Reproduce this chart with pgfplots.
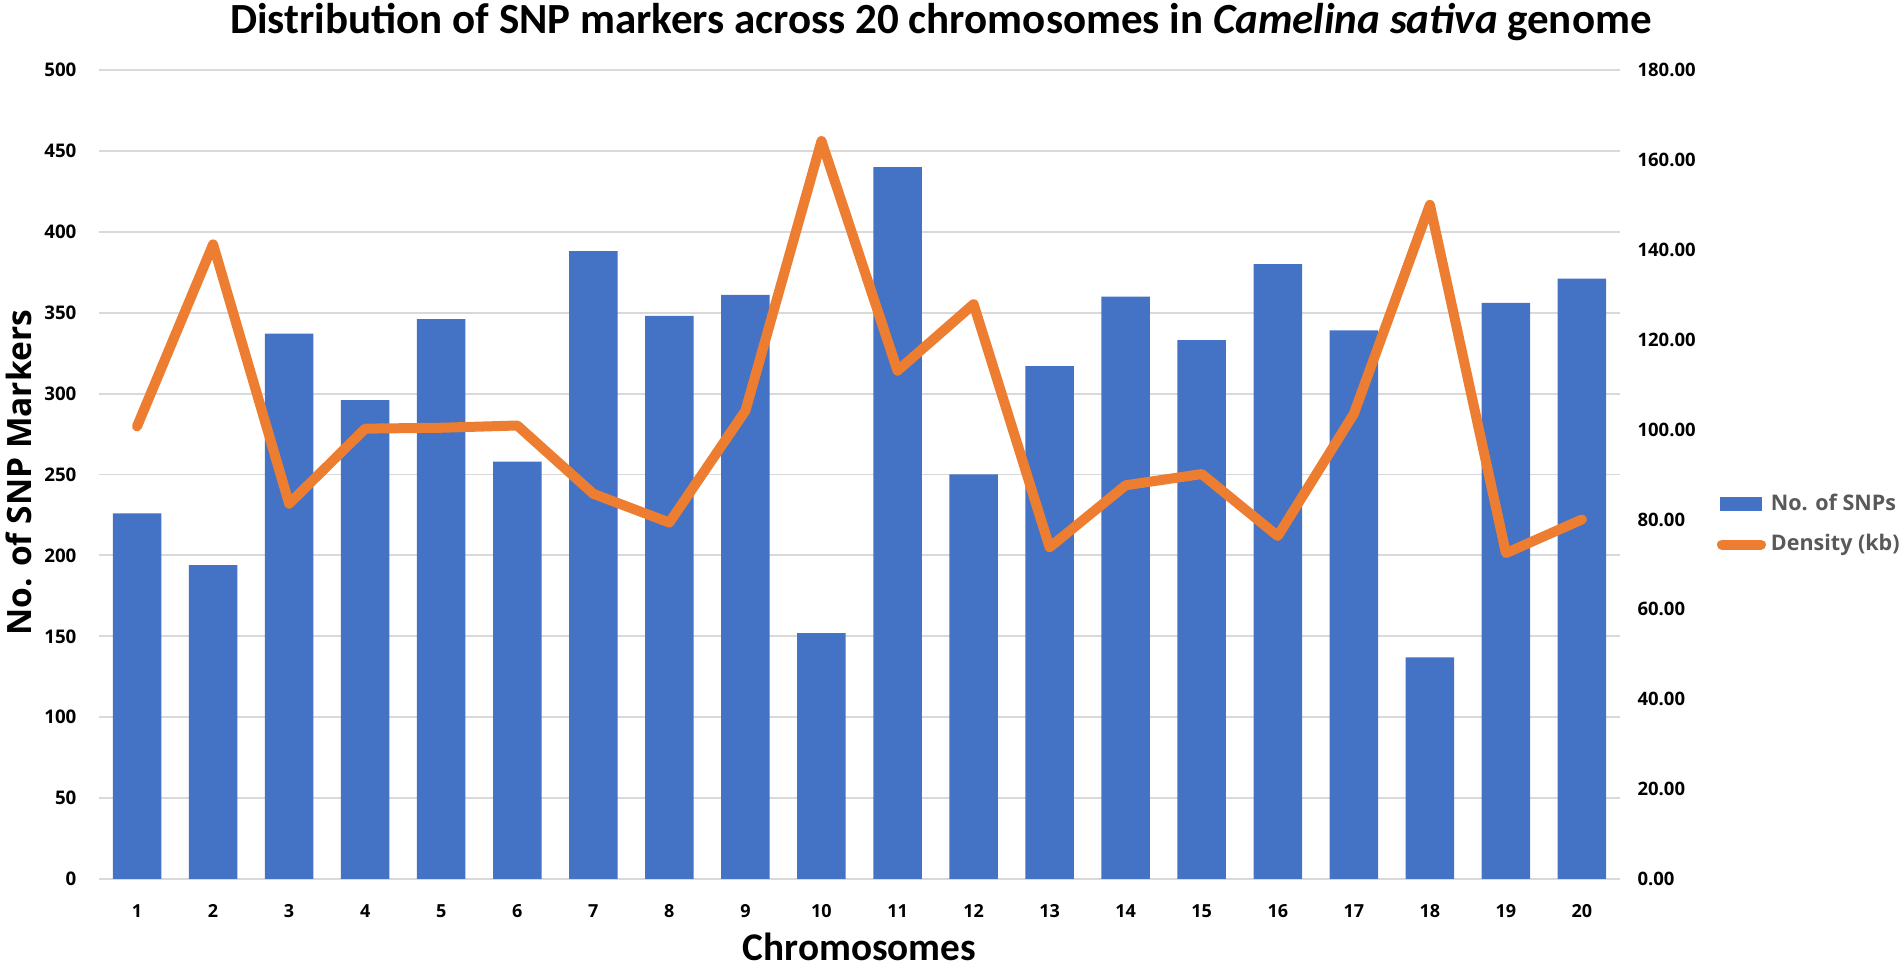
\documentclass[border=0pt]{standalone}
\usepackage{fontspec}
\setmainfont{Carlito}
\newfontfamily\osans{Open Sans}
\usepackage{pgfplots}
\usepackage{pgfplotstable}
\pgfplotsset{compat=1.18}
\definecolor{barblue}{HTML}{4472C4}
\definecolor{lineorange}{HTML}{ED7D31}
\definecolor{gridgray}{HTML}{D9D9D9}
\definecolor{leggray}{HTML}{595959}
\pgfplotstableread{
chr snps density
1 226 100.7
2 194 141.2
3 337 83.5
4 296 100.2
5 346 100.4
6 258 100.9
7 388 85.7
8 348 79.3
9 361 104.2
10 152 164.2
11 440 113.1
12 250 127.9
13 317 73.8
14 360 87.6
15 333 90.1
16 380 76.3
17 339 103.5
18 137 150.0
19 356 72.5
20 371 80.0
}\datatable

\begin{document}
\begin{tikzpicture}
\path[use as bounding box] (-39.6pt,-36pt) rectangle (720.4pt,351.6pt);
\begin{axis}[
  at={(0,0)}, anchor=south west,
  scale only axis, width=608.4pt, height=323.6pt,
  xmin=0.5, xmax=20.5, ymin=0, ymax=500,
  xtick={1,...,20}, ytick={0,50,...,500},
  axis line style={draw=none},
  major tick length=0pt,
  ymajorgrids, major grid style={gridgray, line width=0.75pt},
  /pgf/number format/assume math mode=true,
  xticklabel style={font=\osans\bfseries\fontsize{7.2}{8}\selectfont, yshift=-6.8pt},
  yticklabel style={font=\osans\bfseries\fontsize{7.5}{8}\selectfont, xshift=-5.5pt},
  clip=false,
]
\addplot[ybar, bar width=19.4pt, fill=barblue, draw=none] table[x=chr, y=snps]{\datatable};
\end{axis}
\begin{axis}[
  at={(0,0)}, anchor=south west,
  scale only axis, width=608.4pt, height=323.6pt,
  xmin=0.5, xmax=20.5, ymin=0, ymax=180,
  axis x line=none,
  axis y line*=right,
  axis line style={draw=none},
  ytick={0,20,...,180},
  major tick length=0pt,
  /pgf/number format/assume math mode=true,
  yticklabel style={font=\osans\bfseries\fontsize{7.4}{8}\selectfont, xshift=3.5pt,
    /pgf/number format/fixed, /pgf/number format/fixed zerofill, /pgf/number format/precision=2},
  legend style={at={(1.0634,0.4382)}, anchor=west, draw=none, fill=none, inner sep=0pt,
    row sep=4pt, font=\osans\bfseries\fontsize{8.6}{10}\selectfont, text=leggray,
    cells={anchor=west}},
  clip=false,
]
\addlegendimage{legend image code/.code={\fill[barblue] (1.6pt,-2.6pt) rectangle (18pt,2.6pt);}}
\addlegendentry{No. of SNPs}
\addplot[lineorange, line width=4pt, line join=round, line cap=round,
  legend image code/.code={\draw[lineorange, line width=4pt, line cap=round] (2pt,0pt) -- (17.6pt,0pt);}]
  table[x=chr, y=density]{\datatable};
\addlegendentry{Density (kb)}
\end{axis}
\node[font=\bfseries\fontsize{17.2}{20}\selectfont, anchor=base] at (336.8pt,338pt)
  {Distribution of SNP markers across 20 chromosomes in \textit{Camelina sativa} genome};
\node[font=\bfseries\fontsize{15.7}{18}\selectfont, anchor=base] at (304.2pt,-32.8pt) {Chromosomes};
\node[font=\osans\bfseries\fontsize{13.4}{16}\selectfont, rotate=90, anchor=base] at (-26.8pt,162.4pt) {No. of SNP Markers};
\end{tikzpicture}
\end{document}
